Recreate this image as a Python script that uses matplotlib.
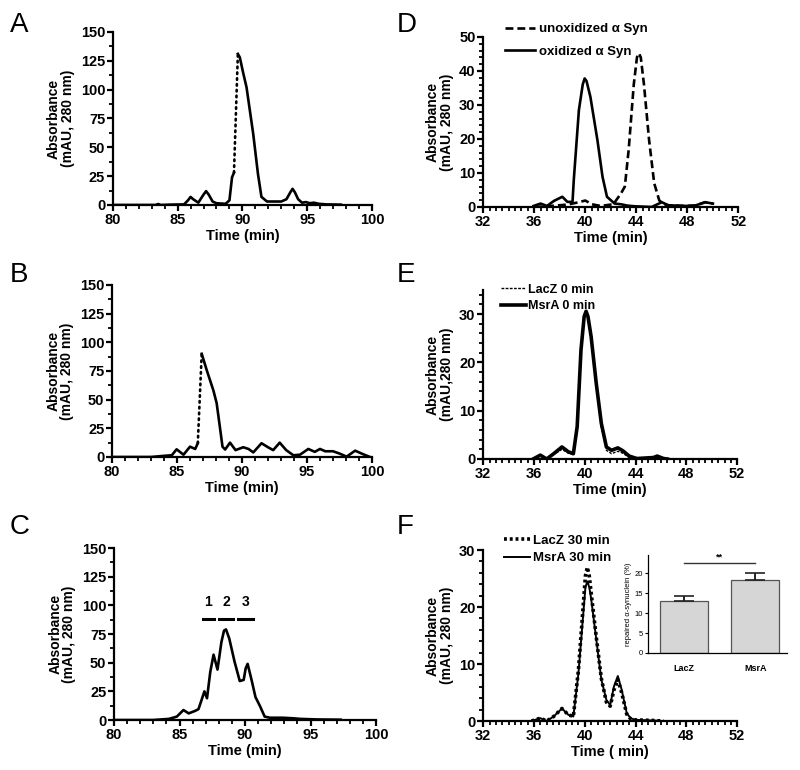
import matplotlib
matplotlib.use('Agg')
import matplotlib.pyplot as plt
from matplotlib.ticker import MultipleLocator

plt.rcParams['font.family'] = ['Liberation Sans', 'DejaVu Sans']

# Panel A - chromatogram (min, mAU)
a_time = [80, 83.3, 83.5, 83.7, 84.5, 85.5, 85.8, 86.0, 86.2, 86.6, 87.0, 87.2, 87.4, 87.7,
          88.0, 88.7, 89.0, 89.2, 89.35, 89.65, 89.8, 90.05, 90.32, 90.6, 90.83, 91.2, 91.47,
          91.9, 92.5, 93.0, 93.4, 93.7, 93.87, 94.05, 94.3, 94.6, 94.9, 95.2, 95.5, 95.9, 96.5, 97.6]
a_abs = [0, 0, 0.8, 0, 0.3, 0.5, 4, 7, 5, 2, 9, 12, 9, 3,
         1.5, 1, 4, 24, 28, 131, 128, 115, 102, 80, 62, 27, 7,
         3, 3, 3, 5, 11, 14, 11, 5, 2, 2.5, 1.5, 2, 1, 0.5, 0.3]
a_rise = (18, 19)  # points joined by the dotted rise

# Panel B
b_time = [80, 83.0, 84.0, 84.6, 84.97, 85.5, 86.0, 86.4, 86.6, 86.9, 87.28, 87.8, 88.05,
          88.3, 88.5, 88.7, 89.08, 89.5, 90.1, 90.5, 90.87, 91.5, 92.0, 92.4, 92.9, 93.4,
          93.95, 94.46, 95.1, 95.6, 96.0, 96.4, 97.0, 97.5, 98.05, 98.7, 99.3, 99.85]
b_abs = [0, 0, 1, 1.5, 6.7, 2, 9, 7, 12, 90, 76, 58, 47,
         26, 9, 6.5, 12.5, 6, 8.5, 7, 4, 12, 8.5, 6, 12.5, 6,
         1.5, 2, 7, 4.5, 7, 5, 5, 3, 0.3, 5.5, 2.5, 0]
b_rise = (8, 9)

# Panel C
c_time = [80, 83, 84.2, 84.8, 85.3, 85.7, 86.2, 86.45, 86.7, 86.9, 87.1, 87.35, 87.6, 87.9,
          88.2, 88.4, 88.55, 88.8, 89.2, 89.6, 89.9, 90.05, 90.2, 90.5, 90.8, 91.15, 91.5,
          91.9, 92.9, 93.7, 94.2, 95.5, 97.3]
c_abs = [0, 0, 1, 3, 8.7, 5.8, 8, 9.5, 18, 25, 19, 42, 57, 44,
         68, 78, 79, 71, 51, 34, 35, 45, 49, 35, 20, 12, 3,
         2, 2, 1.5, 1, 0.5, 0.3]
c_frac_labels = ['1', '2', '3']
c_frac_start = [86.8, 88.0, 89.5]
c_frac_end = [87.6, 89.1, 90.6]
c_frac_level = 88
c_label_level = 97

# Panel D
d_time_ox = [35.95, 36.5, 37.0, 37.55, 38.2, 38.6, 39.0, 39.1, 39.5, 39.8, 39.95, 40.1, 40.4,
             40.95, 41.35, 41.7, 42.3, 42.8, 43.3, 43.9, 45.2, 46.0, 46.5, 47.8, 48.6, 49.4, 50.0]
d_ox = [0.3, 1, 0.3, 1.8, 3, 1.5, 1.5, 8, 28.5, 36, 37.8, 37, 32.4,
        19.7, 8.9, 3, 1, 0.8, 0.4, 0.2, 0, 1.4, 0.5, 0.3, 0.4, 1.4, 1]
d_time_unox = [36.0, 37.0, 38.6, 39.5, 40.0, 40.5, 41.2, 42.2, 42.8, 43.1, 43.4, 43.8, 44.05,
               44.2, 44.35, 44.6, 45.0, 45.4, 45.8, 46.2, 46.5, 47.8, 48.6, 49.4, 50.0]
d_unox = [0, 0.2, 0.7, 1.4, 1.9, 0.8, 0.3, 0.8, 4, 6, 16.8, 36, 44,
          45.2, 44, 36, 19.7, 7, 1.9, 0.8, 0.5, 0.3, 0.4, 1.4, 1]

# Panel E
e_time = [36.0, 36.5, 37.0, 37.6, 38.2, 38.7, 39.1, 39.4, 39.7, 39.95, 40.1, 40.25, 40.5,
          40.9, 41.3, 41.7, 42.1, 42.6, 43.0, 43.5, 44.1, 45.4, 45.7, 46.2, 46.5]
e_msra = [0.1, 0.8, 0, 1.2, 2.5, 1.5, 1.1, 6.7, 22.6, 29.5, 30.6, 29.5, 25.3,
          15.7, 7.4, 2.5, 1.8, 2.3, 1.7, 0.6, 0.1, 0.3, 0.6, 0.1, 0]
e_lacz = [0.1, 0.6, 0, 1.0, 2.0, 1.2, 0.9, 6.0, 22.0, 29.0, 30.2, 29.0, 25.0,
          15.0, 6.5, 1.8, 1.1, 1.6, 1.2, 0.3, 0.1, 0.2, 0.4, 0.1, 0]

# Panel F
f_time = [35.8, 36.5, 37.0, 37.55, 38.2, 38.7, 39.1, 39.5, 39.8, 40.05, 40.2, 40.35, 40.5,
          40.9, 41.3, 41.7, 42.0, 42.3, 42.6, 42.9, 43.3, 43.6, 44.0, 45.4, 46.2]
f_msra = [0, 0.5, 0, 0.8, 2.2, 1.1, 0.8, 8.4, 16.7, 23.5, 24.5, 23.5, 21.5,
          14.4, 7.3, 3.7, 2.8, 6.1, 7.9, 5.5, 1.4, 0.5, 0.2, 0.1, 0]
f_lacz = [0, 0.5, 0, 0.8, 2.2, 1.1, 0.8, 9.0, 18.0, 25.5, 27.0, 25.5, 22.5,
          14.8, 7.5, 3.3, 2.6, 5.5, 7.3, 5.0, 1.2, 0.4, 0.2, 0.1, 0]

# Inset - repaired alpha-synuclein (%)
inset_groups = ['LacZ', 'MsrA']
inset_mean = [13.0, 18.2]
inset_err = [1.2, 1.8]
inset_sig_level = 22.6


def style_axes(ax, xlim, xmajor, xminor, ylim, ymajor, yminor, xlabel,
               ylabel='Absorbance\n(mAU, 280 nm)'):
    ax.set_xlim(*xlim)
    ax.set_ylim(*ylim)
    ax.xaxis.set_major_locator(MultipleLocator(xmajor))
    ax.xaxis.set_minor_locator(MultipleLocator(xminor))
    ax.yaxis.set_major_locator(MultipleLocator(ymajor))
    ax.yaxis.set_minor_locator(MultipleLocator(yminor))
    for s in ['top', 'right']:
        ax.spines[s].set_visible(False)
    for s in ['left', 'bottom']:
        ax.spines[s].set_linewidth(1.6)
    ax.tick_params(which='major', direction='out', length=4.5, width=1.6, labelsize=10.5, pad=1)
    ax.tick_params(which='minor', direction='out', length=3, width=1.3)
    for lab in ax.get_xticklabels() + ax.get_yticklabels():
        lab.set_fontweight('bold')
    ax.set_xlabel(xlabel, fontsize=10.5, fontweight='bold', labelpad=2)
    ax.set_ylabel(ylabel, fontsize=10, fontweight='bold', labelpad=4, linespacing=1.0)


def draw_with_rise(ax, t, y, rise):
    i, j = rise
    ax.plot(t[:i + 1], y[:i + 1], color='black', lw=1.9)
    ax.plot(t[i:j + 1], y[i:j + 1], color='black', lw=1.9, ls=(0, (0.6, 1.6)),
            dash_capstyle='round')
    ax.plot(t[j:], y[j:], color='black', lw=1.9)


fig = plt.figure(figsize=(8, 7.7), dpi=100)

axA = fig.add_axes([0.141, 0.7338, 0.324, 0.2247])
axB = fig.add_axes([0.140, 0.4065, 0.325, 0.2234])
axC = fig.add_axes([0.1425, 0.0649, 0.3275, 0.2234])
axD = fig.add_axes([0.604, 0.7312, 0.319, 0.2208])
axE = fig.add_axes([0.604, 0.4039, 0.3175, 0.2195])
axF = fig.add_axes([0.604, 0.0636, 0.3175, 0.222])

# A
draw_with_rise(axA, a_time, a_abs, a_rise)
style_axes(axA, (80, 100), 5, 1, (0, 150), 25, 12.5, 'Time (min)')

# B
draw_with_rise(axB, b_time, b_abs, b_rise)
style_axes(axB, (80, 100), 5, 1, (0, 150), 25, 12.5, 'Time (min)')

# C
axC.plot(c_time, c_abs, color='black', lw=1.9)
for lab, s, e in zip(c_frac_labels, c_frac_start, c_frac_end):
    axC.plot([s, e], [c_frac_level, c_frac_level], color='black', lw=2.2)
    axC.text((s + e) / 2, c_label_level, lab, ha='center', va='bottom',
             fontsize=10, fontweight='bold')
style_axes(axC, (80, 100), 5, 1, (0, 150), 25, 12.5, 'Time (min)')

# D
axD.plot(d_time_unox, d_unox, color='black', lw=1.9, ls=(0, (3, 1.5)),
         label='unoxidized \u03b1 Syn')
axD.plot(d_time_ox, d_ox, color='black', lw=1.9, label='oxidized \u03b1 Syn')
style_axes(axD, (32, 52), 4, 0.5, (0, 50), 10, 2, 'Time (min)')
axD.legend(loc='upper left', bbox_to_anchor=(0.06, 1.12), frameon=False, borderpad=0,
           handlelength=2.3, handletextpad=0.3, labelspacing=0.75,
           prop={'size': 9.5, 'weight': 'bold'})

# E
axE.plot(e_time, e_msra, color='black', lw=2.6, label='MsrA 0 min')
axE.plot(e_time, e_lacz, color='black', lw=1.0, ls=(0, (2, 1)), label='LacZ 0 min')
style_axes(axE, (32, 52), 4, 0.5, (0, 35), 10, 2, 'Time (min)',
           ylabel='Absorbance\n(mAU,280 nm)')
h, l = axE.get_legend_handles_labels()
axE.legend(h[::-1], l[::-1], loc='upper left', bbox_to_anchor=(0.045, 1.075), frameon=False,
           borderpad=0, handlelength=2.0, handletextpad=0.2, labelspacing=0.35,
           prop={'size': 9, 'weight': 'bold'})

# F
axF.plot(f_time, f_msra, color='black', lw=1.4, label='MsrA 30 min')
axF.plot(f_time, f_lacz, color='black', lw=2.6, ls=(0, (0.8, 0.8)), label='LacZ 30 min')
style_axes(axF, (32, 52), 4, 0.5, (0, 30), 10, 2, 'Time ( min)')
h, l = axF.get_legend_handles_labels()
axF.legend(h[::-1], l[::-1], loc='upper left', bbox_to_anchor=(0.055, 1.13), frameon=False,
           borderpad=0, handlelength=2.0, handletextpad=0.2, labelspacing=0.4,
           prop={'size': 9.5, 'weight': 'bold'})

# inset
axI = fig.add_axes([0.81, 0.152, 0.174, 0.127])
xpos = list(range(len(inset_groups)))
axI.bar(xpos, inset_mean, width=0.68, color='#d6d6d6', edgecolor='#555555', linewidth=0.9,
        yerr=[[0] * len(inset_err), inset_err], capsize=7,
        error_kw={'elinewidth': 1.4, 'capthick': 1.2, 'ecolor': '#222222'})
axI.plot([0, 1], [inset_sig_level, inset_sig_level], color='#333333', lw=1.0)
axI.text(0.5, inset_sig_level + 0.4, '**', ha='center', va='bottom', fontsize=6.5,
         fontweight='bold')
axI.set_xlim(-0.507, 1.45)
axI.set_ylim(0, 24.5)
axI.set_yticks([0, 5, 10, 15, 20])
axI.set_xticks(xpos)
axI.set_xticklabels(inset_groups, fontsize=6.5, fontweight='bold')
axI.tick_params(axis='y', labelsize=5.5, length=2.5, width=0.8, pad=1)
axI.tick_params(axis='x', length=0, pad=8)
for s in ['top', 'right']:
    axI.spines[s].set_visible(False)
for s in ['left', 'bottom']:
    axI.spines[s].set_linewidth(0.9)
axI.set_ylabel('repaired \u03b1-synuclein (%)', fontsize=5.5, labelpad=2)

# panel letters
for letter, x, y in [('A', 0.012, 0.985), ('B', 0.012, 0.66), ('C', 0.012, 0.333),
                     ('D', 0.496, 0.985), ('E', 0.496, 0.66), ('F', 0.496, 0.333)]:
    fig.text(x, y, letter, fontsize=20, va='top', ha='left')

fig.savefig('out.png', dpi=100)
